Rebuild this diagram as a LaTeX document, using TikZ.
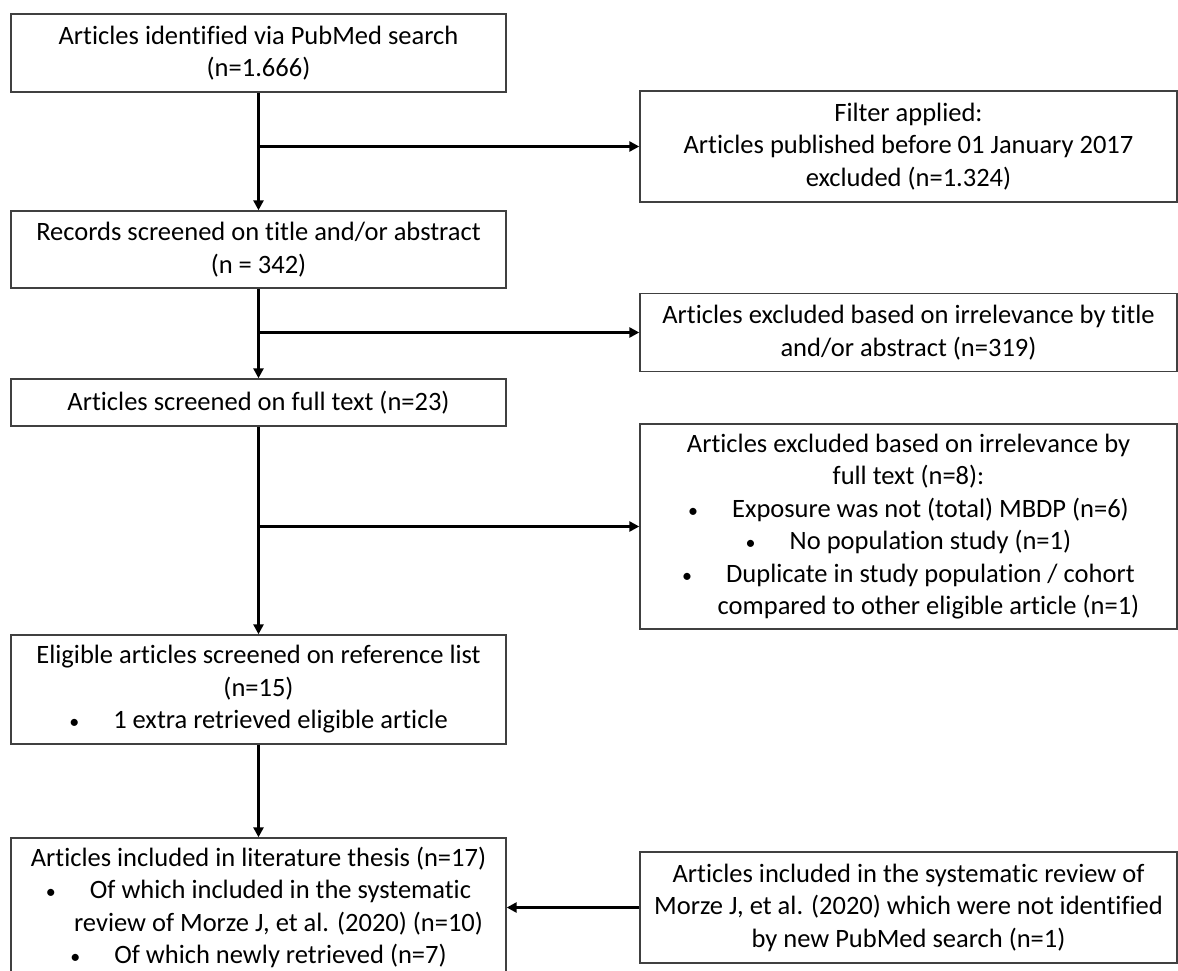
\documentclass[tikz,border=0pt]{standalone}
\usepackage{fontspec}
\setmainfont{Carlito}[Ligatures=NoCommon]
\usetikzlibrary{arrows.meta,calc}
\newcommand{\blt}[1]{{\fontsize{20}{20}\selectfont\textbullet}\hspace{34pt}#1}
\begin{document}
\begin{tikzpicture}[x=1pt,y=-1pt,
  box/.style={draw=black!75, line width=1.4pt, rectangle, inner sep=0pt, align=center,
    font=\fontsize{26.5}{32.5}\selectfont},
  arr/.style={line width=2.5pt, -{Triangle[length=10pt,width=10pt]}},
  ln/.style={line width=2.5pt}]
\useasboundingbox (0,0) rectangle (1178,971);
% left column
\node[box, minimum width=495pt, minimum height=78pt] (n1) at (258.5,53)
  {Articles identified via PubMed search\\(n=1.666)};
\node[box, minimum width=495pt, minimum height=77pt] (n2) at (258.5,249.5)
  {Records screened on title and/or abstract\\(n = 342)};
\node[box, minimum width=495pt, minimum height=47pt] (n3) at (258.5,402.5)
  {Articles screened on full text (n=23)};
\node[box, minimum width=495pt, minimum height=109pt] (n4) at (258.5,689.5)
  {Eligible articles screened on reference list\\(n=15)\\\blt{1 extra retrieved eligible article}};
\node[box, minimum width=495pt, minimum height=139pt] (n5) at (258.5,907.5)
  {Articles included in literature thesis (n=17)\\
   \blt{Of which included in the systematic}\\
   \hspace*{40pt}review of Morze J, et al. (2020) (n=10)\\
   \blt{Of which newly retrieved (n=7)}};
% right column
\node[box, minimum width=537pt, minimum height=111pt] (r1) at (908.5,146.5)
  {Filter applied:\\Articles published before 01 January 2017\\excluded (n=1.324)};
\node[box, minimum width=537pt, minimum height=78pt] (r2) at (908.5,332.5)
  {Articles excluded based on irrelevance by title\\and/or abstract (n=319)};
\node[box, minimum width=537pt, minimum height=205pt] (r3) at (908.5,526.5)
  {Articles excluded based on irrelevance by\\full text (n=8):\\
   \blt{Exposure was not (total) MBDP (n=6)}\\
   \blt{No population study (n=1)}\\
   \blt{Duplicate in study population / cohort}\\
   \hspace*{40pt}compared to other eligible article (n=1)};
\node[box, minimum width=537pt, minimum height=111pt] (r4) at (908.5,907.5)
  {Articles included in the systematic review of\\Morze J, et al. (2020) which were not identified\\by new PubMed search (n=1)};
% connectors
\draw[arr] (n1.south) -- (n2.north);
\draw[arr] (n2.south) -- (n3.north);
\draw[arr] (n3.south) -- (n4.north);
\draw[arr] (n4.south) -- (n5.north);
\coordinate (j1) at (n1.south |- r1.west);
\coordinate (j2) at (n2.south |- r2.west);
\coordinate (j3) at (n3.south |- r3.west);
\draw[arr] (j1) -- (r1.west);
\draw[arr] (j2) -- (r2.west);
\draw[arr] (j3) -- (r3.west);
\draw[arr] (r4.west) -- (n5.east);
\end{tikzpicture}
\end{document}
